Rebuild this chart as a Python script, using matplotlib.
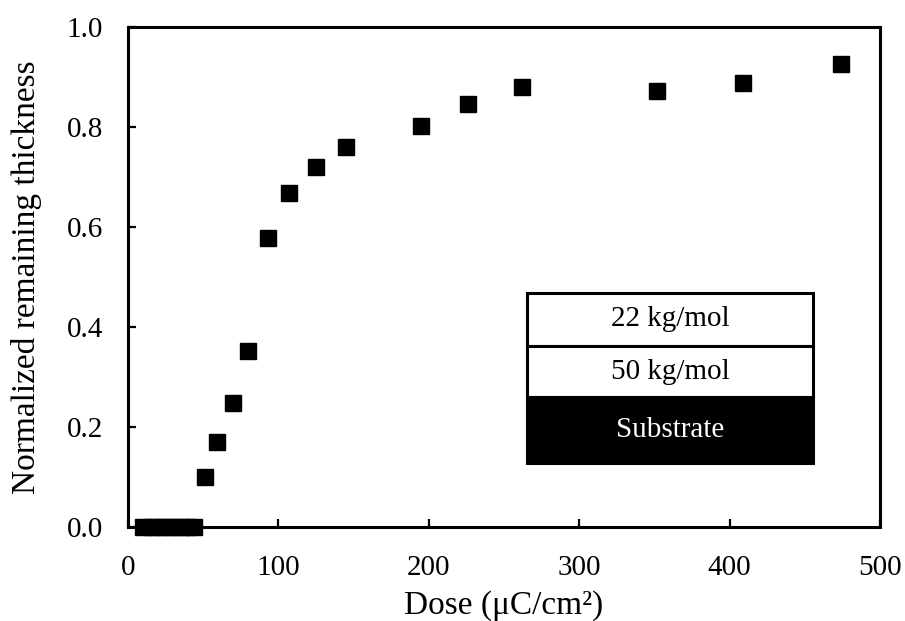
import matplotlib.pyplot as plt

plt.rcParams['font.family'] = ['Liberation Serif', 'DejaVu Serif']

# dose (uC/cm2) and normalized remaining thickness
dose_zero = [10, 15, 20, 25, 30, 35, 40, 44]
thick_zero = [0, 0, 0, 0, 0, 0, 0, 0]
dose = [51, 59, 70, 80, 93, 107, 125, 145, 195, 226, 262, 352, 409, 474]
thick = [0.10, 0.17, 0.248, 0.351, 0.577, 0.668, 0.721, 0.761, 0.802,
         0.846, 0.881, 0.873, 0.889, 0.926]

x_ticks = [0, 100, 200, 300, 400, 500]
y_ticks = [0.0, 0.2, 0.4, 0.6, 0.8, 1.0]

layers = ['22 kg/mol', '50 kg/mol', 'Substrate']

fig = plt.figure(figsize=(9.05, 6.21), dpi=100)
ax = fig.add_axes([0.1414, 0.1514, 0.8310, 0.8051])

ax.plot(dose_zero + dose, thick_zero + thick, 's', color='black',
        markersize=12, clip_on=False, zorder=5)

ax.set_xlim(0, 500)
ax.set_ylim(0, 1.0)
ax.set_xticks(x_ticks)
ax.set_yticks(y_ticks)
ax.set_yticklabels([f'{v:.1f}' for v in y_ticks])
ax.tick_params(direction='in', length=6, width=1.6, labelsize=21,
               colors='black')
ax.tick_params(axis='y', pad=18)
ax.tick_params(axis='x', pad=20)
for s in ax.spines.values():
    s.set_linewidth(2.2)
    s.set_color('black')

ax.set_xlabel('Dose (μC/cm²)', fontsize=24, labelpad=7)
ax.set_ylabel('Normalized remaining thickness', fontsize=24, labelpad=18)

# layer stack inset
x0, x1 = 0.531, 0.9105
edges = [0.4686, 0.362, 0.2594, 0.1286]
fills = ['white', 'white', 'black']
tcols = ['black', 'black', 'white']
for i, name in enumerate(layers):
    top, bot = edges[i], edges[i + 1]
    rect = plt.Rectangle((x0, bot), x1 - x0, top - bot, transform=ax.transAxes,
                         facecolor=fills[i], edgecolor='black', lw=2.2, zorder=6)
    ax.add_patch(rect)
    ax.text((x0 + x1) / 2, (top + bot) / 2, name, transform=ax.transAxes,
            ha='center', va='center', fontsize=21, color=tcols[i], zorder=7)

fig.savefig('out.png', dpi=100)
